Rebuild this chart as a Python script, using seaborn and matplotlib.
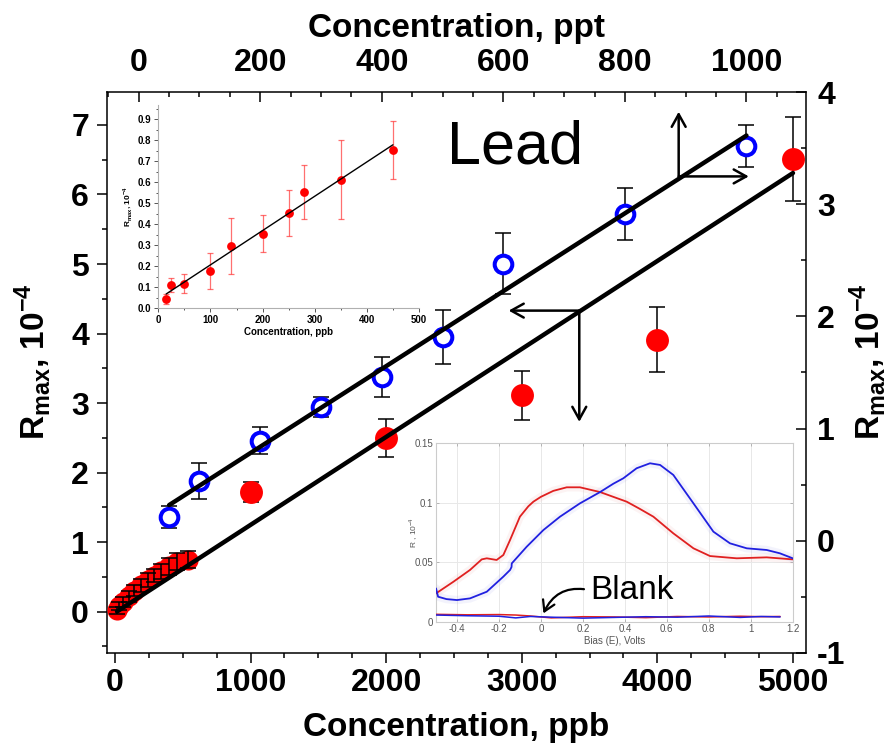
import numpy as np
import pandas as pd
import matplotlib
matplotlib.use("Agg")
import matplotlib.pyplot as plt
import seaborn as sns
from matplotlib.ticker import MultipleLocator

# ---- main plot data ----
# blue open circles (top axis ppt / right axis)
ppt_blue = [50, 100, 200, 300, 400, 500, 600, 800, 1000]
rmax_blue = [0.21, 0.53, 0.89, 1.19, 1.46, 1.82, 2.47, 2.91, 3.52]
err_blue = [0.10, 0.16, 0.12, 0.09, 0.18, 0.24, 0.27, 0.23, 0.19]

# red filled circles (bottom axis ppb / left axis)
ppb_red = [1000, 2000, 3000, 4000, 5000]
rmax_red = [1.72, 2.50, 3.11, 3.91, 6.51]
err_red = [0.14, 0.27, 0.35, 0.47, 0.60]

# low concentration cluster near origin
ppb_low = [15, 30, 60, 100, 140, 190, 240, 290, 340, 400, 460, 540]
rmax_low = [0.02, 0.08, 0.14, 0.22, 0.30, 0.38, 0.45, 0.52, 0.58, 0.65, 0.72, 0.75]
err_low = [0.05, 0.06, 0.07, 0.08, 0.08, 0.09, 0.10, 0.10, 0.11, 0.12, 0.12, 0.12]

# calibration line for ppb data (slope per ppb, intercept)
red_fit = (0.001265, -0.016)

x_ticks = [0, 1000, 2000, 3000, 4000, 5000]
y_ticks = [0, 1, 2, 3, 4, 5, 6, 7]
top_ticks = [0, 200, 400, 600, 800, 1000]
right_ticks = [-1, 0, 1, 2, 3, 4]

# ---- inset 1 (low range) ----
ins_ppb = [15, 25, 50, 100, 140, 200, 250, 280, 350, 450]
ins_rmax = [0.045, 0.11, 0.117, 0.176, 0.296, 0.356, 0.455, 0.553, 0.613, 0.752]
ins_err = [0.025, 0.032, 0.046, 0.086, 0.132, 0.09, 0.11, 0.128, 0.188, 0.138]
ins_xticks = [0, 100, 200, 300, 400, 500]
ins_yticks = [0.0, 0.1, 0.2, 0.3, 0.4, 0.5, 0.6, 0.7, 0.8, 0.9]

# ---- inset 2 (R vs bias) ----
red_bias = [-0.5, -0.417, -0.338, -0.282, -0.258, -0.211, -0.179, -0.147, -0.1, -0.06,
            -0.036, 0.0, 0.059, 0.123, 0.186, 0.282, 0.409, 0.47, 0.536, 0.631, 0.727,
            0.806, 0.933, 1.076, 1.2]
red_r = [0.0238, 0.0336, 0.0435, 0.0524, 0.0533, 0.0519, 0.0561, 0.0687, 0.0883, 0.097,
         0.1009, 0.105, 0.110, 0.113, 0.113, 0.109, 0.1009, 0.095, 0.0883, 0.0743, 0.0617,
         0.0552, 0.0533, 0.0541, 0.0524]
blue_bias = [-0.5, -0.49, -0.45, -0.4, -0.338, -0.258, -0.179, -0.147, -0.14, -0.139,
             -0.068, 0.012, 0.091, 0.186, 0.282, 0.345, 0.393, 0.456, 0.52, 0.568, 0.631,
             0.727, 0.822, 0.901, 0.981, 1.076, 1.139, 1.2]
blue_r = [0.028, 0.021, 0.019, 0.0182, 0.0196, 0.0252, 0.0379, 0.0435, 0.046, 0.049,
          0.063, 0.0771, 0.0883, 0.0995, 0.109, 0.116, 0.1206, 0.129, 0.1332, 0.1318,
          0.1234, 0.0995, 0.0757, 0.0659, 0.0617, 0.0603, 0.0575, 0.0533]
blank_bias = [-0.5, -0.35, -0.2, -0.12, -0.05, 0.05, 0.2, 0.35, 0.5, 0.65, 0.8, 0.95, 1.05, 1.14]
blank_blue = [0.0056, 0.005, 0.0046, 0.0032, 0.0044, 0.0038, 0.0030, 0.0036, 0.0042,
              0.0038, 0.0048, 0.0036, 0.0044, 0.0040]
blank_red = [0.0062, 0.0058, 0.006, 0.0056, 0.0048, 0.0032, 0.0042, 0.004, 0.0034,
             0.0044, 0.004, 0.0046, 0.0042, 0.0044]
bias_ticks = [-0.4, -0.2, 0, 0.2, 0.4, 0.6, 0.8, 1, 1.2]
r_ticks = [0, 0.05, 0.1, 0.15]

sns.set_style("ticks")
plt.rcParams['font.family'] = ['Liberation Sans', 'DejaVu Sans']
plt.rcParams['mathtext.fontset'] = 'custom'
plt.rcParams['mathtext.rm'] = 'Liberation Sans'
plt.rcParams['mathtext.bf'] = 'Liberation Sans:bold'
for k in ('text.color', 'axes.labelcolor', 'xtick.color', 'ytick.color', 'axes.edgecolor'):
    plt.rcParams[k] = 'black'

W, H = 896, 751
fig = plt.figure(figsize=(W / 100, H / 100), dpi=100)
rect = [107 / W, 1 - 653 / H, 699 / W, 561 / H]
ax = fig.add_axes(rect)
ax2 = fig.add_axes(rect, frameon=False)
ax2.patch.set_visible(False)

# ---- ppb data on bottom/left ----
sns.scatterplot(x=ppb_low, y=rmax_low, ax=ax, color='red', s=210, linewidth=0,
                zorder=3, legend=False)
ax.errorbar(ppb_low, rmax_low, yerr=err_low, fmt='none', ecolor='black',
            elinewidth=1.1, capsize=6, capthick=1.1, zorder=3.5)
ax.errorbar(ppb_red, rmax_red, yerr=err_red, fmt='none', ecolor='black',
            elinewidth=1.1, capsize=6, capthick=1.1, zorder=2)
sns.scatterplot(x=ppb_red, y=rmax_red, ax=ax, color='red', s=272, linewidth=0,
                zorder=3, legend=False)
fit_x = np.array([min(ppb_low), max(ppb_red)])
sns.lineplot(x=fit_x, y=red_fit[0] * fit_x + red_fit[1], ax=ax, color='black',
             lw=3.2, zorder=4)

ax.set_xlim(-59, 5096)
ax.set_ylim(-0.594, 7.474)
ax.set_xticks(x_ticks, [str(v) for v in x_ticks], fontsize=23, fontweight='bold')
ax.set_yticks(y_ticks, [str(v) for v in y_ticks], fontsize=23, fontweight='bold')
ax.xaxis.set_minor_locator(MultipleLocator(250))
ax.yaxis.set_minor_locator(MultipleLocator(0.5))
ax.tick_params(which='major', direction='out', length=7, width=1.1, color='black')
ax.tick_params(which='minor', direction='out', length=3.5, width=1.1, color='black')
ax.tick_params(axis='x', pad=4)
ax.tick_params(axis='y', pad=6)
for s in ax.spines.values():
    s.set_linewidth(1.1)
    s.set_color('black')
ax.set_xlabel("Concentration, ppb", fontsize=24, fontweight='bold')
ax.xaxis.set_label_coords(0.5, -0.105)
ax.set_ylabel(r"R$_\mathbf{max}$, 10$^\mathbf{-4}$", fontsize=24, fontweight='bold')
ax.yaxis.set_label_coords(-0.077, 0.52)

# ---- ppt data on top/right ----
ax2.errorbar(ppt_blue, rmax_blue, yerr=err_blue, fmt='none', ecolor='black',
             elinewidth=1.1, capsize=6, capthick=1.1, zorder=2)
sns.scatterplot(x=ppt_blue, y=rmax_blue, ax=ax2, color='blue', facecolor='white',
                edgecolor='blue', s=161, linewidth=2.9, zorder=3, legend=False)
sns.regplot(x=ppt_blue, y=rmax_blue, ax=ax2, scatter=False, ci=None, truncate=True,
            color='black', line_kws=dict(lw=3.2, zorder=4))
ax2.set_xlim(-52.2, 1098)
ax2.set_ylim(-1, 4)
ax2.xaxis.tick_top()
ax2.xaxis.set_label_position('top')
ax2.yaxis.tick_right()
ax2.yaxis.set_label_position('right')
ax2.set_xticks(top_ticks, [str(v) for v in top_ticks], fontsize=23, fontweight='bold')
ax2.set_yticks(right_ticks, [str(v) for v in right_ticks], fontsize=23, fontweight='bold')
ax2.xaxis.set_minor_locator(MultipleLocator(50))
ax2.yaxis.set_minor_locator(MultipleLocator(0.5))
ax2.tick_params(which='major', direction='in', length=7, width=1.1, color='black')
ax2.tick_params(which='minor', direction='in', length=3.5, width=1.1, color='black')
ax2.tick_params(axis='x', pad=10)
ax2.tick_params(axis='y', pad=8)
ax2.set_xlabel("Concentration, ppt", fontsize=24, fontweight='bold')
ax2.xaxis.set_label_coords(0.5, 1.098)
ax2.set_ylabel(r"R$_\mathbf{max}$, 10$^\mathbf{-4}$", fontsize=24, fontweight='bold')
ax2.yaxis.set_label_coords(1.059, 0.52)

# arrows pointing to the relevant axes
arw = dict(arrowstyle='->,head_length=0.45,head_width=0.25', lw=1.8, color='black',
           shrinkA=0, shrinkB=0, mutation_scale=20)
ax.annotate("", xy=(4157, 7.19), xytext=(4157, 6.26), arrowprops=arw)
ax.annotate("", xy=(4674, 6.26), xytext=(4157, 6.26), arrowprops=arw)
ax.annotate("", xy=(2903, 4.33), xytext=(3424, 4.33), arrowprops=arw)
ax.annotate("", xy=(3424, 2.73), xytext=(3424, 4.33), arrowprops=arw)

ax.text(2950, 6.67, "Lead", fontsize=44, ha='center', va='center', color='black')

# ---- inset 1 ----
axi = fig.add_axes([158.3 / W, 1 - 308.3 / H, 260.7 / W, 203.3 / H])
axi.errorbar(ins_ppb, ins_rmax, yerr=ins_err, fmt='none', ecolor=(1, 0.2, 0.2, 0.7),
             elinewidth=0.9, capsize=2.5, capthick=0.9, zorder=2)
sns.regplot(x=ins_ppb, y=ins_rmax, ax=axi, scatter=False, ci=None, truncate=True,
            color='black', line_kws=dict(lw=1.0, zorder=4))
sns.scatterplot(x=ins_ppb, y=ins_rmax, ax=axi, color='red', s=40, linewidth=0,
                zorder=3, legend=False)
axi.set_xlim(0, 500)
axi.set_ylim(0, 0.968)
axi.set_xticks(ins_xticks, [str(v) for v in ins_xticks], fontsize=7, fontweight='bold')
axi.set_yticks(ins_yticks, [f"{v:.1f}" for v in ins_yticks], fontsize=7, fontweight='bold')
axi.xaxis.set_minor_locator(MultipleLocator(50))
axi.yaxis.set_minor_locator(MultipleLocator(0.05))
axi.tick_params(which='major', direction='out', length=3, width=0.7, color='#555555', pad=2)
axi.tick_params(which='minor', direction='out', length=1.5, width=0.7, color='#555555')
axi.spines['top'].set_visible(False)
axi.spines['right'].set_visible(False)
for s in ('left', 'bottom'):
    axi.spines[s].set_color('#b0b0b0')
    axi.spines[s].set_linewidth(0.8)
axi.set_xlabel("Concentration, ppb", fontsize=7, fontweight='bold', labelpad=1)
axi.set_ylabel(r"R$_\mathbf{max}$, 10$^\mathbf{-4}$", fontsize=6, fontweight='bold', labelpad=3)

# ---- inset 2 ----
axb = fig.add_axes([436 / W, 1 - 621.7 / H, 356.7 / W, 178.4 / H])
axb.set_facecolor('white')
axb.grid(True, color='#e8e8e8', lw=0.7)
for xs, ys, c, halo in [(red_bias, red_r, '#e02020', '#f0b0b0'),
                        (blue_bias, blue_r, '#2020e0', '#b0b0f0')]:
    sns.lineplot(x=xs, y=ys, ax=axb, color=halo, lw=6, alpha=0.15, zorder=2)
    sns.lineplot(x=xs, y=ys, ax=axb, color=c, lw=1.3, zorder=3)
sns.lineplot(x=blank_bias, y=blank_red, ax=axb, color='#e02020', lw=1.1, zorder=3)
sns.lineplot(x=blank_bias, y=blank_blue, ax=axb, color='#2020e0', lw=1.1, zorder=3)
axb.set_xlim(-0.5, 1.2)
axb.set_ylim(0, 0.15)
axb.set_xticks(bias_ticks, [f"{v:g}" for v in bias_ticks], fontsize=7, color='#555555')
axb.set_yticks(r_ticks, [f"{v:g}" for v in r_ticks], fontsize=7, color='#555555')
axb.tick_params(direction='in', length=2.5, width=0.6, color='#aaaaaa', pad=2,
                top=True, right=True)
for s in axb.spines.values():
    s.set_color('#cccccc')
    s.set_linewidth(0.8)
axb.set_xlabel("Bias (E), Volts", fontsize=7, color='#555555', labelpad=1)
axb.set_ylabel(r"R , 10$^{-4}$", fontsize=6, color='#555555')
axb.yaxis.set_label_coords(-0.045, 0.5)
axb.annotate("Blank", xy=(0.012, 0.007), xytext=(0.234, 0.0265), fontsize=24,
             ha='left', va='center', color='black',
             arrowprops=dict(arrowstyle='->,head_length=0.5,head_width=0.3', lw=1.6,
                             color='black', connectionstyle='arc3,rad=0.4',
                             relpos=(0, 0.5), shrinkA=2, shrinkB=0, mutation_scale=15))

fig.savefig("out.png", dpi=100)
